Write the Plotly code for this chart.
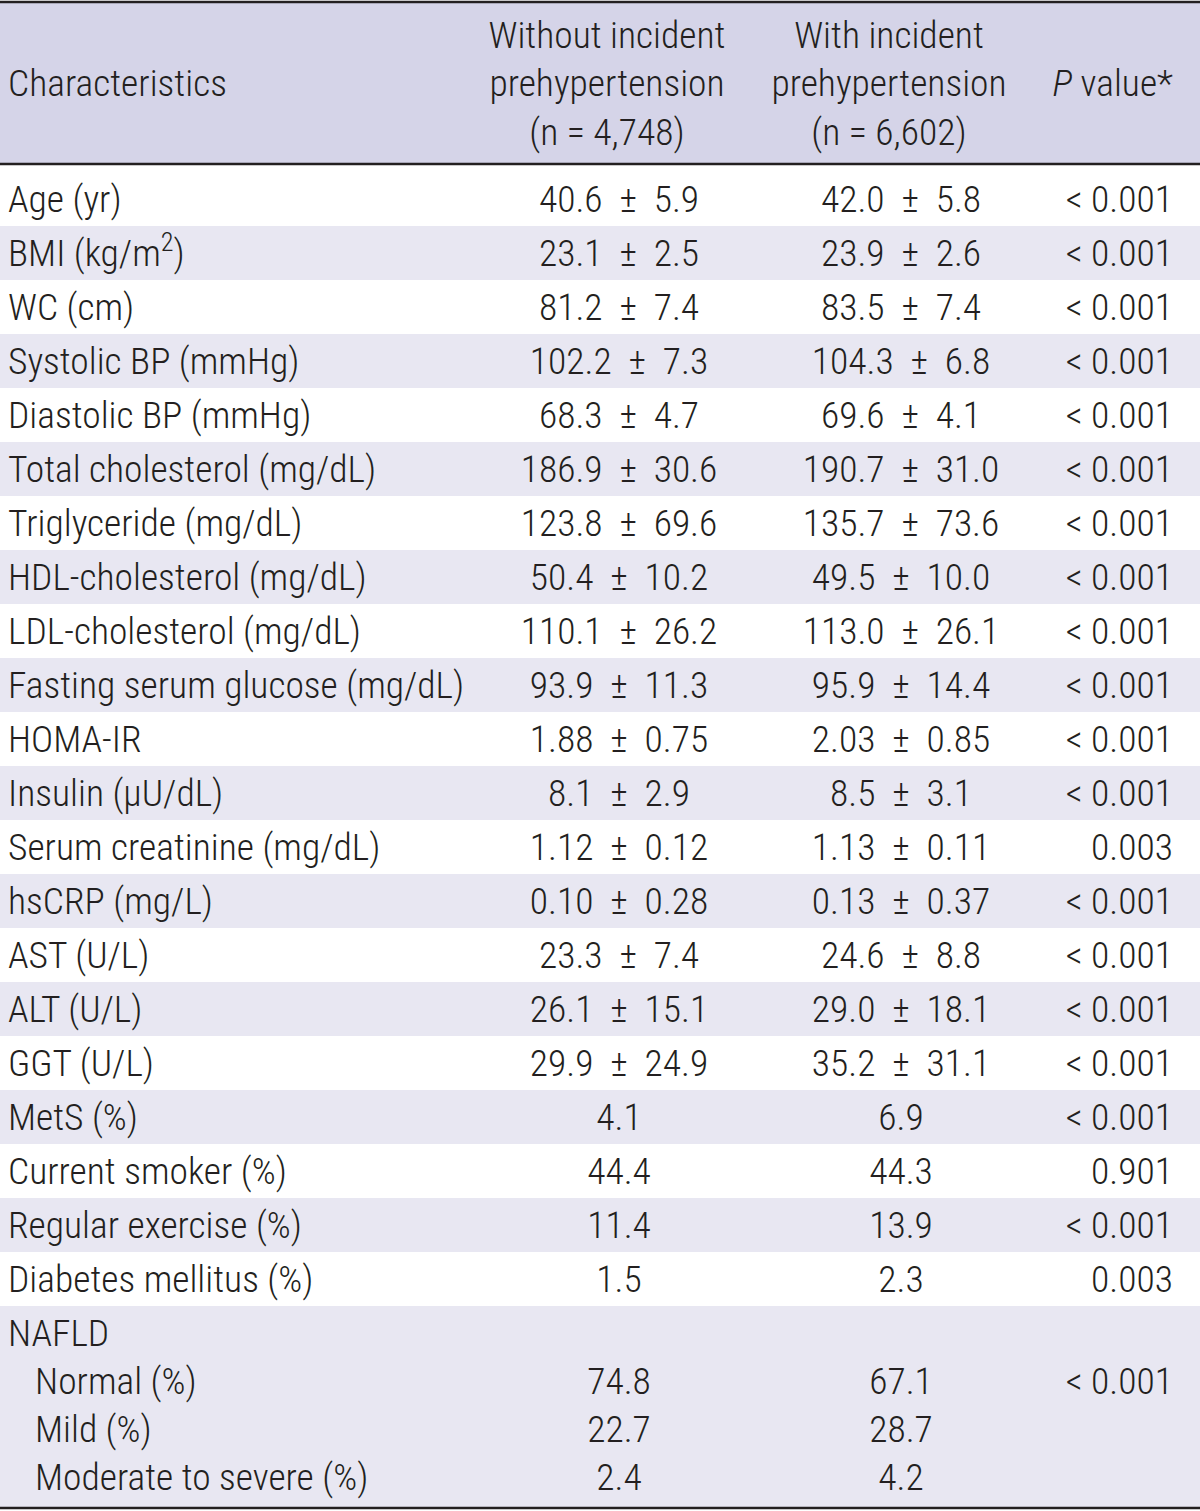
import plotly.graph_objects as go

# ---------------- data ----------------
characteristics = [
    "Age (yr)", "BMI (kg/m<sup>2</sup>)", "WC (cm)", "Systolic BP (mmHg)",
    "Diastolic BP (mmHg)", "Total cholesterol (mg/dL)", "Triglyceride (mg/dL)",
    "HDL-cholesterol (mg/dL)", "LDL-cholesterol (mg/dL)",
    "Fasting serum glucose (mg/dL)", "HOMA-IR", "Insulin (µU/dL)",
    "Serum creatinine (mg/dL)", "hsCRP (mg/L)", "AST (U/L)", "ALT (U/L)",
    "GGT (U/L)", "MetS (%)", "Current smoker (%)", "Regular exercise (%)",
    "Diabetes mellitus (%)",
]
without_incident = [
    "40.6 ± 5.9", "23.1 ± 2.5", "81.2 ± 7.4", "102.2 ± 7.3", "68.3 ± 4.7",
    "186.9 ± 30.6", "123.8 ± 69.6", "50.4 ± 10.2", "110.1 ± 26.2",
    "93.9 ± 11.3", "1.88 ± 0.75", "8.1 ± 2.9", "1.12 ± 0.12", "0.10 ± 0.28",
    "23.3 ± 7.4", "26.1 ± 15.1", "29.9 ± 24.9", "4.1", "44.4", "11.4", "1.5",
]
with_incident = [
    "42.0 ± 5.8", "23.9 ± 2.6", "83.5 ± 7.4", "104.3 ± 6.8", "69.6 ± 4.1",
    "190.7 ± 31.0", "135.7 ± 73.6", "49.5 ± 10.0", "113.0 ± 26.1",
    "95.9 ± 14.4", "2.03 ± 0.85", "8.5 ± 3.1", "1.13 ± 0.11", "0.13 ± 0.37",
    "24.6 ± 8.8", "29.0 ± 18.1", "35.2 ± 31.1", "6.9", "44.3", "13.9", "2.3",
]
p_values = [
    "< 0.001", "< 0.001", "< 0.001", "< 0.001", "< 0.001", "< 0.001",
    "< 0.001", "< 0.001", "< 0.001", "< 0.001", "< 0.001", "< 0.001",
    "0.003", "< 0.001", "< 0.001", "< 0.001", "< 0.001", "< 0.001",
    "0.901", "< 0.001", "0.003",
]
nafld_group = "NAFLD"
nafld_levels = ["Normal (%)", "Mild (%)", "Moderate to severe (%)"]
nafld_without = ["74.8", "22.7", "2.4"]
nafld_with = ["67.1", "28.7", "4.2"]
nafld_p = "< 0.001"

header_labels = [
    "Characteristics",
    "Without incident<br>prehypertension<br>(n = 4,748)",
    "With incident<br>prehypertension<br>(n = 6,602)",
    "<i>P</i> value*",
]

# ---------------- layout constants ----------------
W, H = 1200, 1511
FONT = "Roboto Condensed, Liberation Sans Narrow, Roboto, Arial, sans-serif"
FS = 37.5
TXT = "#231f20"
HEADER_BG = "#d5d4e8"
STRIPE_BG = "#e8e7f2"
LINE = "#231f20"

HEADER_TOP, HEADER_BOTTOM = 2, 164
ROW0_CENTER, ROW_STEP = 199, 54
NAFLD_STEP = 48
TEXT_DY = 4

X_LABEL, X_INDENT = 8, 35
X_COL2, X_COL3, X_P = 619, 901, 1173
X_H2, X_H3 = 607, 889


def esc(s):
    return s.replace("<", "&lt;") if s.startswith("<") else s


def spaced(s):
    # a little wider spacing around the ± sign, as in the printed table
    return s.replace(" ± ", "\u2002±\u2002")


fig = go.Figure()
shapes = []

# header background
shapes.append(dict(type="rect", xref="x", yref="y", x0=0, x1=W,
                   y0=HEADER_TOP, y1=HEADER_BOTTOM, fillcolor=HEADER_BG,
                   line=dict(width=0), layer="below"))

n = len(characteristics)
row_centers = [ROW0_CENTER + ROW_STEP * i for i in range(n)]
for i, yc in enumerate(row_centers):
    if i % 2 == 1:
        shapes.append(dict(type="rect", xref="x", yref="y", x0=0, x1=W,
                           y0=yc - ROW_STEP / 2, y1=yc + ROW_STEP / 2,
                           fillcolor=STRIPE_BG, line=dict(width=0), layer="below"))

nafld_top = row_centers[-1] + ROW_STEP / 2
nafld_centers = [row_centers[-1] + ROW_STEP + NAFLD_STEP * k for k in range(4)]
nafld_bottom = H - 3
shapes.append(dict(type="rect", xref="x", yref="y", x0=0, x1=W,
                   y0=nafld_top, y1=nafld_bottom, fillcolor=STRIPE_BG,
                   line=dict(width=0), layer="below"))

# rules
for yv, wv in [(HEADER_TOP, 2.5), (HEADER_BOTTOM, 2.5), (nafld_bottom, 2.5)]:
    shapes.append(dict(type="line", xref="x", yref="y", x0=0, x1=W,
                       y0=yv, y1=yv, line=dict(color=LINE, width=wv)))

font = dict(family=FONT, size=FS, color=TXT, weight=300)

# header text
header_mid = (HEADER_TOP + HEADER_BOTTOM) / 2 + TEXT_DY
fig.add_trace(go.Scatter(x=[X_LABEL], y=[header_mid], mode="text",
                         text=[header_labels[0]], textposition="middle right",
                         textfont=font, hoverinfo="skip"))
fig.add_trace(go.Scatter(x=[X_H2, X_H3], y=[header_mid, header_mid], mode="text",
                         text=header_labels[1:3], textposition="middle center",
                         textfont=font, hoverinfo="skip"))
fig.add_trace(go.Scatter(x=[X_P], y=[header_mid], mode="text",
                         text=[header_labels[3]], textposition="middle left",
                         textfont=font, hoverinfo="skip"))

# body text
labels = characteristics + [nafld_group] + nafld_levels
label_x = [X_LABEL] * (n + 1) + [X_INDENT] * 3
ys = [y + TEXT_DY for y in row_centers + nafld_centers]
fig.add_trace(go.Scatter(x=label_x, y=ys, mode="text", text=labels,
                         textposition="middle right", textfont=font, hoverinfo="skip"))

col2 = [spaced(v) for v in without_incident + nafld_without]
col3 = [spaced(v) for v in with_incident + nafld_with]
ys_vals = [y + TEXT_DY for y in row_centers + nafld_centers[1:]]
fig.add_trace(go.Scatter(x=[X_COL2] * len(col2), y=ys_vals, mode="text", text=col2,
                         textposition="middle center", textfont=font, hoverinfo="skip"))
fig.add_trace(go.Scatter(x=[X_COL3] * len(col3), y=ys_vals, mode="text", text=col3,
                         textposition="middle center", textfont=font, hoverinfo="skip"))

pv = [esc(p) for p in p_values] + [esc(nafld_p)]
ys_p = [y + TEXT_DY for y in row_centers + [nafld_centers[1]]]
fig.add_trace(go.Scatter(x=[X_P] * len(pv), y=ys_p, mode="text", text=pv,
                         textposition="middle left", textfont=font, hoverinfo="skip"))

fig.update_layout(
    width=W, height=H, margin=dict(l=0, r=0, t=0, b=0),
    paper_bgcolor="white", plot_bgcolor="white", showlegend=False,
    shapes=shapes,
    xaxis=dict(range=[0, W], visible=False, fixedrange=True),
    yaxis=dict(range=[H, 0], visible=False, fixedrange=True),
)
fig.write_html(
    "out.html",
    config={"displayModeBar": False},
    post_script="document.body.style.margin='0';document.body.style.overflow='hidden';",
)
